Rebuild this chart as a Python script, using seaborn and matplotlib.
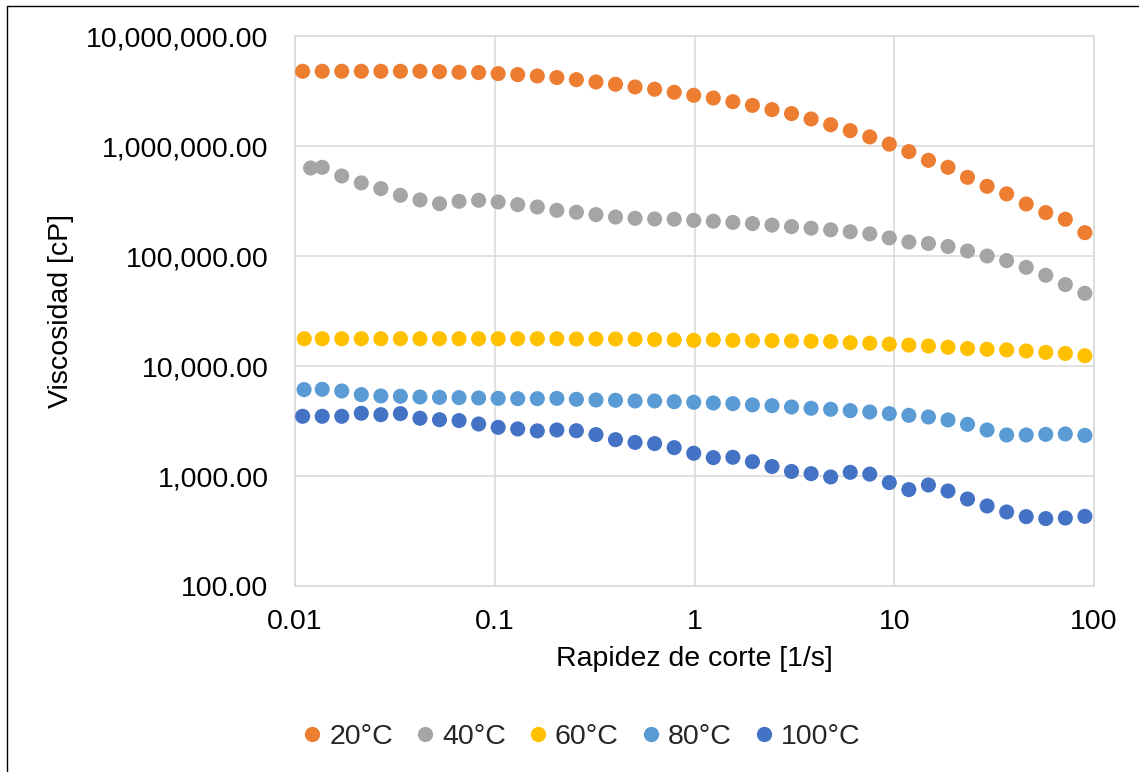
import matplotlib
matplotlib.use("Agg")
import matplotlib.pyplot as plt
import matplotlib.ticker as mticker
from matplotlib.lines import Line2D
import pandas as pd
import seaborn as sns

# Shear rate sweep [1/s], shared by all temperatures
shear_rate = [0.01092, 0.01368, 0.01714, 0.02147, 0.02690, 0.03370, 0.04222, 0.05290, 0.06627, 0.08303,
              0.1040, 0.1303, 0.1633, 0.2046, 0.2563, 0.3211, 0.4023, 0.5040, 0.6315, 0.7912,
              0.9913, 1.242, 1.556, 1.950, 2.443, 3.060, 3.834, 4.804, 6.018, 7.540,
              9.445, 11.83, 14.83, 18.58, 23.27, 29.16, 36.53, 45.77, 57.34, 71.84, 90.0]

# First recorded shear rate where a run started slightly later
first_rate = {"40°C": 0.01197, "60°C": 0.01113, "80°C": 0.01110}

temperatures = ["20°C", "40°C", "60°C", "80°C", "100°C"]
colors = ["#ED7D31", "#A5A5A5", "#FFC000", "#5B9BD5", "#4472C4"]

# Viscosity [cP]
visc_20 = [4.78e6, 4.78e6, 4.78e6, 4.78e6, 4.78e6, 4.78e6, 4.78e6, 4.74e6, 4.68e6, 4.65e6,
           4.55e6, 4.46e6, 4.33e6, 4.19e6, 4.01e6, 3.82e6, 3.64e6, 3.44e6, 3.28e6, 3.08e6,
           2.89e6, 2.73e6, 2.53e6, 2.34e6, 2.14e6, 1.97e6, 1.76e6, 1.56e6, 1.38e6, 1.21e6,
           1.04e6, 8.89e5, 7.41e5, 6.40e5, 5.19e5, 4.30e5, 3.67e5, 2.97e5, 2.48e5, 2.16e5, 1.63e5]
visc_40 = [6.31e5, 6.40e5, 5.34e5, 4.62e5, 4.10e5, 3.56e5, 3.23e5, 2.99e5, 3.14e5, 3.21e5,
           3.10e5, 2.93e5, 2.79e5, 2.60e5, 2.50e5, 2.38e5, 2.26e5, 2.20e5, 2.17e5, 2.16e5,
           2.11e5, 2.07e5, 2.02e5, 1.97e5, 1.91e5, 1.85e5, 1.79e5, 1.73e5, 1.66e5, 1.59e5,
           1.46e5, 1.34e5, 1.30e5, 1.22e5, 1.11e5, 1.00e5, 9.08e4, 7.89e4, 6.68e4, 5.50e4, 4.58e4]
visc_60 = [1.77e4, 1.77e4, 1.77e4, 1.77e4, 1.77e4, 1.77e4, 1.77e4, 1.77e4, 1.77e4, 1.77e4,
           1.77e4, 1.77e4, 1.77e4, 1.77e4, 1.76e4, 1.76e4, 1.76e4, 1.75e4, 1.74e4, 1.73e4,
           1.71e4, 1.73e4, 1.71e4, 1.70e4, 1.70e4, 1.69e4, 1.68e4, 1.67e4, 1.63e4, 1.61e4,
           1.58e4, 1.55e4, 1.52e4, 1.48e4, 1.44e4, 1.42e4, 1.40e4, 1.37e4, 1.33e4, 1.30e4, 1.24e4]
visc_80 = [6.10e3, 6.14e3, 5.93e3, 5.49e3, 5.34e3, 5.31e3, 5.23e3, 5.19e3, 5.16e3, 5.12e3,
           5.08e3, 5.05e3, 5.05e3, 5.08e3, 4.98e3, 4.91e3, 4.88e3, 4.81e3, 4.81e3, 4.74e3,
           4.68e3, 4.61e3, 4.55e3, 4.43e3, 4.36e3, 4.24e3, 4.13e3, 4.04e3, 3.93e3, 3.82e3,
           3.69e3, 3.56e3, 3.44e3, 3.23e3, 2.95e3, 2.62e3, 2.36e3, 2.36e3, 2.39e3, 2.41e3, 2.34e3]
visc_100 = [3.49e3, 3.49e3, 3.49e3, 3.72e3, 3.61e3, 3.69e3, 3.35e3, 3.25e3, 3.19e3, 2.97e3,
            2.77e3, 2.68e3, 2.57e3, 2.62e3, 2.58e3, 2.38e3, 2.14e3, 2.02e3, 1.97e3, 1.81e3,
            1.61e3, 1.47e3, 1.48e3, 1.35e3, 1.22e3, 1.10e3, 1.05e3, 980, 1.08e3, 1.04e3,
            871, 752, 828, 731, 618, 534, 471, 427, 410, 415, 430]

x_ticks = [0.01, 0.1, 1, 10, 100]
y_ticks = [1e2, 1e3, 1e4, 1e5, 1e6, 1e7]

series = dict(zip(temperatures, [visc_20, visc_40, visc_60, visc_80, visc_100]))
rows = []
for temp, visc in series.items():
    rates = list(shear_rate)
    if temp in first_rate:
        rates[0] = first_rate[temp]
    for r, v in zip(rates, visc):
        rows.append({"rate": r, "visc": v, "temp": temp})
df = pd.DataFrame(rows)

sns.set_theme(style="white")
plt.rcParams["font.family"] = ["Liberation Sans", "DejaVu Sans"]
FS = 20.5

fig = plt.figure(figsize=(11.39, 7.72), dpi=100)
ax = fig.add_axes([295 / 1139, 1 - 586 / 772, (1094 - 295) / 1139, (586 - 36) / 772])

sns.scatterplot(data=df, x="rate", y="visc", hue="temp", hue_order=temperatures,
                palette=colors, s=118, linewidth=0, alpha=1, legend=False, ax=ax, zorder=3)

ax.set_xscale("log")
ax.set_yscale("log")
ax.set_xlim(0.01, 100)
ax.set_ylim(100, 1e7)
ax.set_xticks(x_ticks)
ax.set_yticks(y_ticks)
ax.xaxis.set_minor_locator(mticker.NullLocator())
ax.yaxis.set_minor_locator(mticker.NullLocator())
ax.xaxis.set_major_formatter(mticker.FuncFormatter(lambda v, _: f"{v:g}"))
ax.yaxis.set_major_formatter(mticker.FuncFormatter(lambda v, _: f"{v:,.2f}"))
ax.tick_params(axis="x", length=0, pad=16.5, labelsize=FS, colors="black")
ax.tick_params(axis="y", length=0, pad=19, labelsize=FS, colors="black")

ax.grid(True, which="major", color="#d9d9d9", linewidth=1.1, zorder=0)
ax.set_axisbelow(True)
for sp in ax.spines.values():
    sp.set_color("#d9d9d9")
    sp.set_linewidth(1.1)

ax.set_xlabel("Rapidez de corte [1/s]", fontsize=FS, color="black", labelpad=8)
ax.set_ylabel("Viscosidad [cP]", fontsize=FS, color="black", labelpad=9)

handles = [Line2D([], [], linestyle="none", marker="o", markersize=11,
                  markerfacecolor=c, markeredgewidth=0) for c in colors]
fig.legend(handles, temperatures, loc="center", bbox_to_anchor=(582 / 1139, 1 - 737 / 772),
           ncol=5, frameon=False, fontsize=FS, handlelength=0.6, handletextpad=0.3,
           columnspacing=0.82, borderaxespad=0, borderpad=0)

# Chart frame edges
x0 = 6.5 / 1139
y1 = 1 - 5.7 / 772
fig.add_artist(Line2D([x0, x0], [0, y1], transform=fig.transFigure, color="black", linewidth=1.0))
fig.add_artist(Line2D([x0, 1], [y1, y1], transform=fig.transFigure, color="black", linewidth=1.0))

fig.savefig("out.png", dpi=100, facecolor="white")
